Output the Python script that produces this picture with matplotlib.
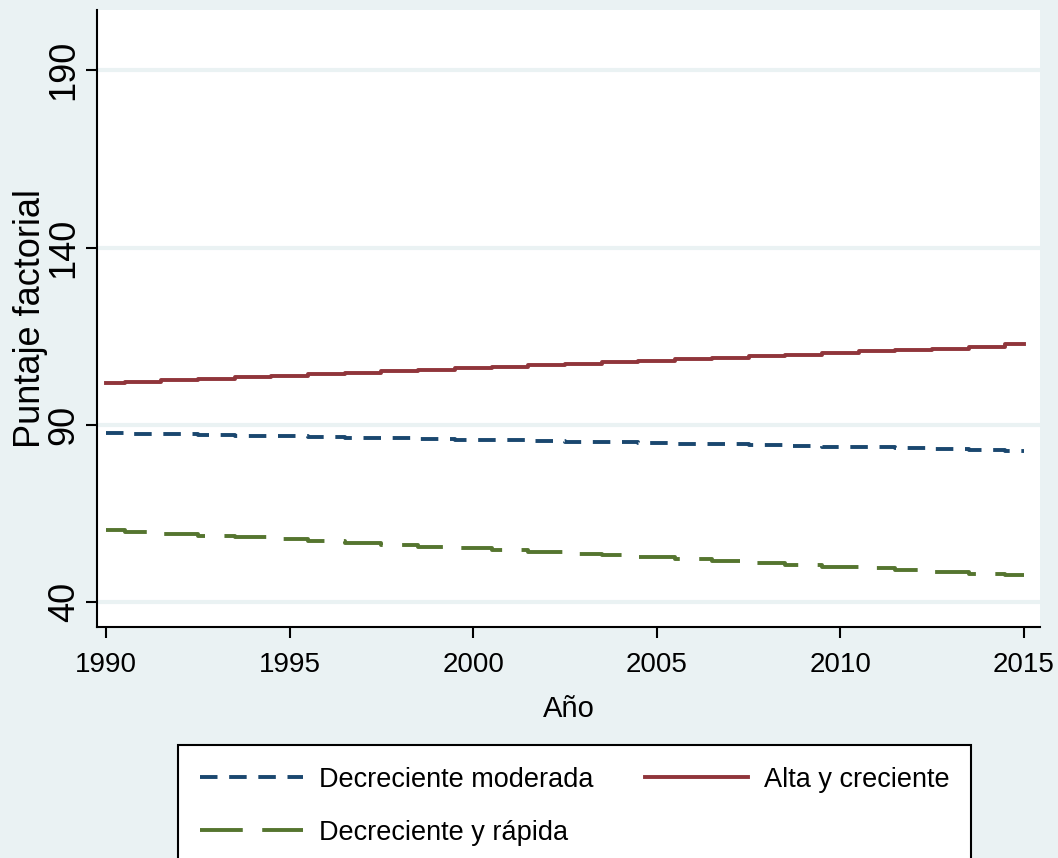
import matplotlib
matplotlib.use("Agg")
import matplotlib.pyplot as plt
from matplotlib.lines import Line2D

# yearly factor scores by trajectory group
years = list(range(1990, 2016))
alta_creciente = [101.8, 102.2, 102.6, 103.0, 103.4, 103.9, 104.3, 104.7, 105.1, 105.6,
                  106.0, 106.4, 106.8, 107.3, 107.7, 108.1, 108.5, 109.0, 109.4, 109.8,
                  110.2, 110.7, 111.1, 111.5, 112.0, 112.8]
decr_moderada = [87.7, 87.5, 87.4, 87.1, 86.9, 86.8, 86.6, 86.4, 86.2, 86.1,
                 85.8, 85.7, 85.5, 85.3, 85.2, 84.9, 84.7, 84.5, 84.3, 84.1,
                 83.9, 83.7, 83.4, 83.2, 82.9, 82.6]
decr_rapida = [60.3, 59.8, 59.3, 58.8, 58.3, 57.7, 57.2, 56.7, 56.2, 55.7,
               55.2, 54.7, 54.2, 53.7, 53.2, 52.6, 52.1, 51.6, 51.1, 50.6,
               50.0, 49.5, 49.0, 48.5, 48.0, 47.6]

yticks = [40, 90, 140, 190]
xticks = [1990, 1995, 2000, 2005, 2010, 2015]

c_blue = "#1a476f"
c_red = "#90353b"
c_green = "#55752f"
bg = "#eaf2f3"

plt.rcParams['font.family'] = ['Liberation Sans', 'DejaVu Sans']

fig = plt.figure(figsize=(10.58, 8.58), dpi=100, facecolor=bg)
ax = fig.add_axes([97 / 1058, 1 - 627 / 858, (1040 - 97) / 1058, (627 - 10) / 858])
ax.set_facecolor("white")

for y in yticks:
    ax.axhline(y, color=bg, lw=3, zorder=0)

ax.plot(years, decr_moderada, color=c_blue, lw=2.8, ls=(0, (4.5, 3)), drawstyle='steps-mid')
ax.plot(years, alta_creciente, color=c_red, lw=2.8, drawstyle='steps-mid')
ax.plot(years, decr_rapida, color=c_green, lw=2.8, ls=(0, (11, 5)), drawstyle='steps-mid')

ax.set_xlim(1989.75, 2015.44)
ax.set_ylim(33, 207)
ax.set_yticks(yticks)
ax.set_xticks(xticks)
ax.tick_params(axis='both', length=8, width=1.5, direction='out')
ax.tick_params(axis='x', labelsize=20, pad=10)
ax.tick_params(axis='y', labelsize=26, pad=3)
for lab in ax.get_yticklabels():
    lab.set_rotation(90)
    lab.set_va('center')
for s in ['top', 'right']:
    ax.spines[s].set_visible(False)
for s in ['left', 'bottom']:
    ax.spines[s].set_linewidth(1.5)

ax.set_ylabel("Puntaje factorial", fontsize=26, labelpad=-1)
ax.set_xlabel("Año", fontsize=21, labelpad=12)

handles = [
    Line2D([], [], color=c_blue, lw=2.8, ls=(0, (4.5, 3))),
    Line2D([], [], color=c_green, lw=2.8, ls=(0, (11, 5))),
    Line2D([], [], color=c_red, lw=2.8),
]
labels = ["Decreciente moderada", "Decreciente y rápida", "Alta y creciente"]
leg = fig.legend(handles, labels, loc='upper left', bbox_to_anchor=(178 / 1058, 1 - 745 / 858),
                 ncol=2, fontsize=19.5, frameon=True, fancybox=False, handlelength=3.8,
                 handletextpad=0.6, columnspacing=1.9, borderpad=0.8, labelspacing=1.0,
                 borderaxespad=0, framealpha=1)
leg.get_frame().set_edgecolor("black")
leg.get_frame().set_linewidth(1.5)

fig.savefig("out.png", dpi=100, facecolor=bg)
